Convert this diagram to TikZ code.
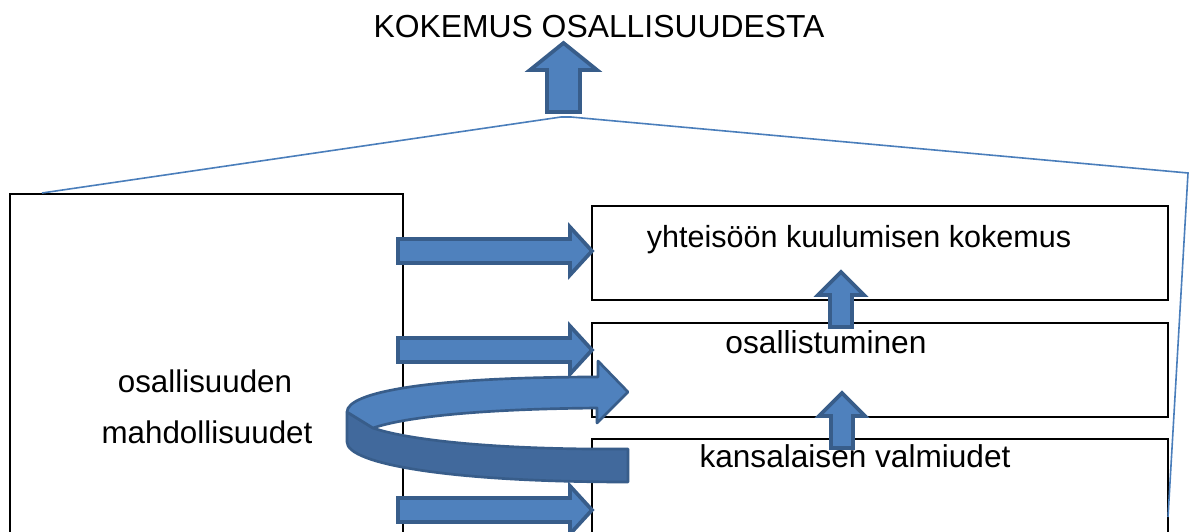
\documentclass[tikz,border=0pt]{standalone}
\usepackage{fontspec}
\setmainfont{Liberation Sans}
\definecolor{arrfill}{RGB}{79,129,189}
\definecolor{arrdark}{RGB}{65,105,156}
\definecolor{arrline}{RGB}{56,93,138}
\definecolor{bracket}{RGB}{74,126,187}
\tikzset{
  boxnode/.style={draw=black,line width=2pt,inner sep=0pt,outer sep=0pt,rectangle},
  txt/.style={anchor=base,inner sep=0pt,font=\fontsize{23.5}{28}\selectfont},
  blockarrow/.style={fill=arrfill,draw=arrline,line width=2.8pt,line join=miter},
  curvlight/.style={fill=arrfill,draw=arrline,line width=2pt,line join=round},
  curvdark/.style={fill=arrdark,draw=arrline,line width=2pt,line join=round},
  bracketline/.style={draw=bracket,line width=1.2pt}
}
\begin{document}
\begin{tikzpicture}[x=0.75pt,y=-0.75pt]
\clip (0,0) rectangle (1189,532);
\fill[white] (0,0) rectangle (1189,532);
% boxes
\node[boxnode,minimum width=294.75pt,minimum height=274.5pt] (left) at (206.5,377) {};
\node[boxnode,minimum width=432pt,minimum height=70.5pt] (b1) at (880,253) {};
\node[boxnode,minimum width=432pt,minimum height=70.5pt] (b2) at (880,370) {};
\node[boxnode,minimum width=432pt,minimum height=90.75pt] (b3) at (880,499.5) {};
% bracket lines
\coordinate (lstart) at (42,193);
\coordinate (apexl) at (561,117);
\coordinate (apexr) at (571,117);
\coordinate (rcorner) at (1188,173);
\coordinate (rend) at (1168,517);
\draw[bracketline] (lstart) -- (apexl) -- (apexr) -- (rcorner) -- (rend);
% texts
\node[txt,font=\fontsize{23.9}{28}\selectfont] (title) at (599,37) {KOKEMUS OSALLISUUDESTA};
\node[txt,font=\fontsize{22.9}{28}\selectfont] (t1) at (859,247) {yhteisöön kuulumisen kokemus};
\node[txt,font=\fontsize{23.8}{28}\selectfont] (t2) at (826,353) {osallistuminen};
\node[txt,font=\fontsize{23.7}{28}\selectfont] (t3) at (855,467) {kansalaisen valmiudet};
\node[txt] (t4) at (205,392) {osallisuuden};
\node[txt] (t5) at (207,443) {mahdollisuudet};
% top arrow
\draw[blockarrow] (547,112) -- (547,70) -- (530,70) -- (563.5,43) -- (597,70) -- (580,70) -- (580,112) -- cycle;
% horizontal arrows
\draw[blockarrow] (398,239) -- (570,239) -- (570,227) -- (592,251) -- (570,275) -- (570,263) -- (398,263) -- cycle;
\draw[blockarrow] (398,338) -- (570,338) -- (570,326) -- (592,350) -- (570,374) -- (570,362) -- (398,362) -- cycle;
\draw[blockarrow] (398,498) -- (570,498) -- (570,486) -- (592,510) -- (570,534) -- (570,522) -- (398,522) -- cycle;
% small up arrows
\draw[blockarrow] (830,327) -- (830,295) -- (818,295) -- (841,272) -- (864,295) -- (852,295) -- (852,327) -- cycle;
\draw[blockarrow] (831,448) -- (831,416) -- (819,416) -- (842,393) -- (865,416) -- (853,416) -- (853,448) -- cycle;
% curved arrow: lower (dark) band
\draw[curvdark] (628,449) -- (590,449) .. controls (480,448) and (405,439) .. (373,428)
  -- (347,412) -- (347,442) .. controls (347,464) and (450,482) .. (628,482) -- cycle;
% curved arrow: upper (light) band with head
\draw[curvlight] (347,412) .. controls (347,392) and (430,377) .. (598,377)
  -- (598,361) -- (628,392) -- (597,423) -- (597,408)
  .. controls (480,409) and (405,417) .. (373,428) -- cycle;
\end{tikzpicture}
\end{document}
